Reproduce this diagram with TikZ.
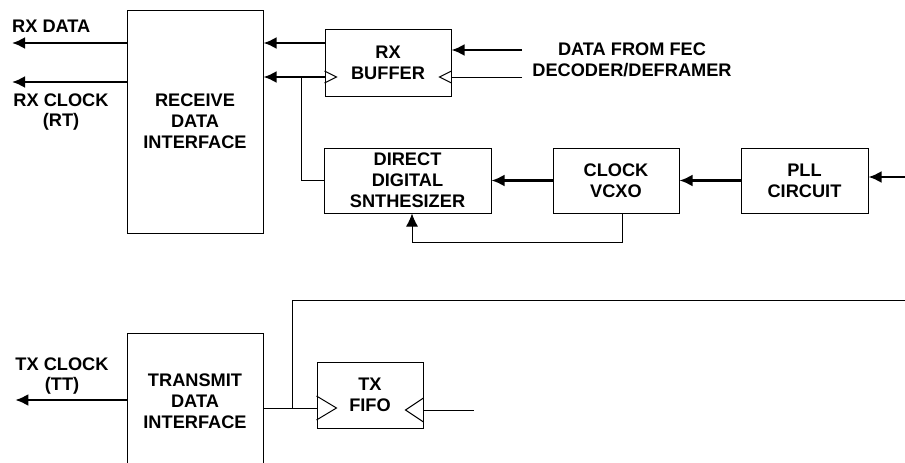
\documentclass[tikz,border=0pt]{standalone}
\usepackage{fontspec}
\setmainfont{Liberation Sans}
\usetikzlibrary{arrows.meta, positioning}

\begin{document}
\begin{tikzpicture}[x=1pt, y=-1pt, node distance=61pt,
        every node/.style={font=\bfseries\fontsize{18.2}{20.8}\selectfont, align=center, inner sep=0pt},
        block/.style={rectangle, draw, line width=1pt},
        bus/.style={line width=2.4pt, -{Latex[length=13pt, width=12pt]}},
        wire/.style={line width=1pt}]
        \useasboundingbox (0,0) rectangle (905,463);
        \node (rxif) [block, minimum width=136pt, minimum height=223pt] at (195,121.5) {RECEIVE\\DATA\\INTERFACE};
        \node (rxbuf) [block, minimum width=126pt, minimum height=67pt] at (388,62.5) {RX\\BUFFER};
        \node (dds) [block, minimum width=167pt, minimum height=65pt] at (407.5,180.5) {DIRECT\\DIGITAL\\SNTHESIZER};
        \node (vcxo) [block, right=of dds, minimum width=126pt, minimum height=65pt] {CLOCK\\VCXO};
        \node (pll) [block, right=of vcxo, minimum width=127pt, minimum height=65pt] {PLL\\CIRCUIT};
        \node (txif) [block, minimum width=136pt, minimum height=136pt] at (195,401) {TRANSMIT\\DATA\\INTERFACE};
        \node (txfifo) [block, minimum width=106pt, minimum height=66pt] at (370,395) {TX\\FIFO};

        \node (rxdata) [anchor=west] at (12,26) {RX DATA};
        \node (rxclk) at (61,112) {RX CLOCK\\(RT)};
        \node (fec) at (632,60) {DATA FROM FEC\\DECODER/DEFRAMER};
        \node (txclk) at (62,376) {TX CLOCK\\(TT)};
        \coordinate (fecin) at (522,50);
        \coordinate (fecclk) at (522,77);
        \coordinate (pllin) at (905,177);
        \coordinate (txout) at (474,410);

        % receive side
        \draw [bus] (rxif.west |- 0,43) -- (rxdata.west |- 0,43);
        \draw [bus] (rxif.west |- 0,82) -- (rxdata.west |- 0,82);
        \draw [bus] (rxbuf.west |- 0,43) -- (rxif.east |- 0,43);
        \draw [bus] (rxbuf.west |- 0,77) -- (rxif.east |- 0,77);
        \draw [wire] (rxbuf.west |- 0,71) -- ++(12,6) -- ++(-12,6);
        \draw [wire] (301,77) |- (dds.west);
        \draw [bus] (fecin) -- (rxbuf.east |- fecin);
        \draw [wire] (fecclk) -- (rxbuf.east |- fecclk);
        \draw [wire] (rxbuf.east |- 0,71) -- ++(-12,6) -- ++(12,6);

        % clock chain
        \draw [bus] (vcxo) -- (dds);
        \draw [bus] (pll) -- (vcxo);
        \draw [bus] (pllin) -- (pll.east |- pllin);
        \draw [wire, -{Latex[length=13pt, width=12pt]}] ([xshift=6pt]vcxo.south) -- ++(0,29) -| ([xshift=4.5pt]dds.south);

        % transmit side
        \draw [bus] (txif.west |- 0,400) -- (txclk.west |- 0,400);
        \draw [wire] (txif.east |- 0,408) -- (txfifo.west |- 0,408);
        \draw [wire] (292,408) -- (292,300) -- (905,300);
        \draw [wire] (txfifo.west |- 0,396) -- ++(20,12) -- ++(-20,12);
        \draw [wire] (txfifo.east |- txout) -- (txout);
        \draw [wire] (txfifo.east |- 0,398) -- ++(-18,12) -- ++(18,12);
    \end{tikzpicture}
\end{document}
